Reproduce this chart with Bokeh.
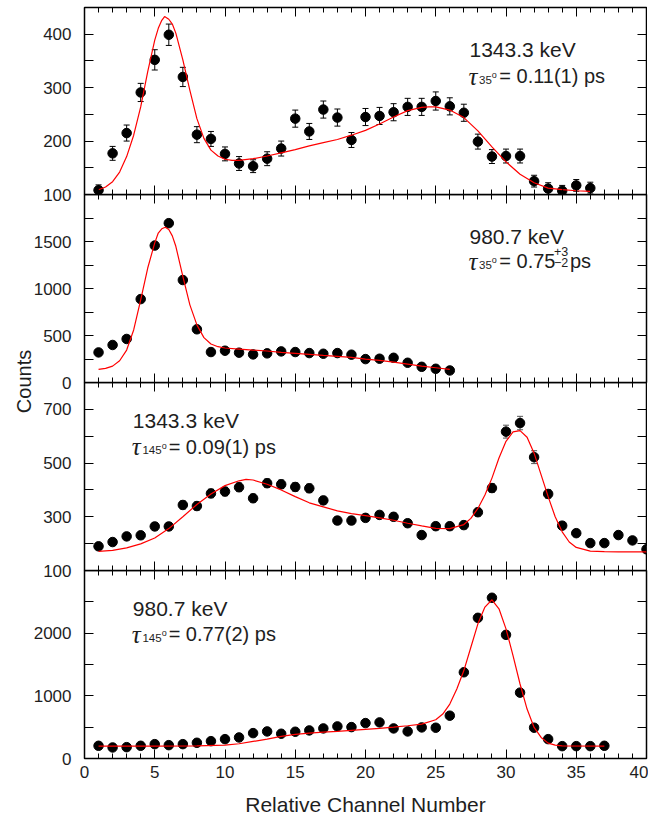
import numpy as np
from bokeh.plotting import figure
from bokeh.models import (Range1d, FixedTicker, LinearAxis, Whisker, TeeHead,
                          ColumnDataSource, Label)
from bokeh.layouts import row, column
from bokeh.embed import file_html
from bokeh.resources import INLINE

# ---------------- data ----------------
x_ticks = [0, 5, 10, 15, 20, 25, 30, 35, 40]
x_minor = list(range(0, 41))

# panel 1 : 1343.3 keV, 35 deg
p1_ch = list(range(1, 37))
p1_counts = [108, 177, 215, 291, 352, 399, 320, 212, 204, 176, 158, 153, 167, 186, 242, 218,
             259, 244, 202, 245, 247, 254, 264, 264, 275, 265, 253, 199, 171, 172, 172, 125,
             111, 107, 117, 112]
p1_err = [10, 13, 15, 17, 19, 20, 18, 15, 14, 13, 13, 12, 13, 14, 16, 15, 16, 16, 14, 16,
          16, 16, 16, 16, 17, 16, 16, 14, 13, 13, 13, 11, 11, 10, 11, 11]
p1_fit_x = [1, 1.5, 2, 2.5, 3, 3.5, 4, 4.5, 5, 5.25, 5.5, 5.7, 6, 6.25, 6.5, 7, 7.5, 8, 8.5, 9,
            9.5, 10, 10.5, 11, 12, 13, 14, 15, 16, 17, 18, 19, 20, 21, 22, 23, 24, 24.5, 25,
            26, 27, 28, 29, 30, 31, 32, 33, 34, 35, 36]
p1_fit_y = [109, 114, 124, 142, 171, 211, 264, 330, 389, 411, 426, 433, 428, 419, 402, 352, 295,
            242, 205, 183, 172, 166, 164, 164, 167, 172, 178, 184, 191, 197, 203, 211, 220, 232,
            245, 257, 263, 264, 264, 258, 244, 219, 189, 161, 138, 122, 112, 109, 107, 106]
p1_yticks = [100, 150, 200, 250, 300, 350, 400]
p1_ylabels = [100, 200, 300, 400]

# panel 2 : 980.7 keV, 35 deg
p2_ch = list(range(1, 27))
p2_counts = [320, 399, 463, 887, 1457, 1695, 1090, 566, 324, 338, 317, 299, 310, 331, 324, 313,
             306, 313, 296, 249, 253, 263, 210, 167, 146, 128]
p2_fit_x = [1, 1.5, 2, 2.5, 3, 3.5, 4, 4.5, 5, 5.25, 5.5, 5.75, 6, 6.25, 6.5, 7, 7.5, 8, 8.5, 9,
            9.5, 10, 11, 12, 13, 14, 15, 16, 17, 18, 19, 20, 21, 22, 23, 24, 25, 26]
p2_fit_y = [139, 150, 174, 231, 345, 559, 880, 1218, 1485, 1590, 1635, 1652, 1627, 1560, 1449,
            1129, 826, 613, 477, 410, 381, 367, 356, 345, 335, 320, 310, 299, 288, 278, 267, 249,
            235, 217, 196, 175, 157, 139]
p2_yticks = [0, 250, 500, 750, 1000, 1250, 1500, 1750]
p2_ylabels = [0, 500, 1000, 1500]

# panel 3 : 1343.3 keV, 145 deg
p3_ch = list(range(1, 41))
p3_counts = [190, 206, 227, 231, 264, 264, 344, 340, 387, 394, 410, 369, 425, 421, 411, 406,
             361, 286, 286, 296, 307, 300, 276, 232, 265, 265, 269, 317, 407, 617, 649, 522,
             385, 267, 239, 202, 202, 232, 212, 179]
p3_err = [12, 12, 13, 13, 14, 14, 15, 15, 16, 16, 16, 15, 16, 16, 16, 16, 15, 14, 14, 14, 14,
          14, 14, 13, 14, 14, 14, 15, 16, 24, 25, 24, 16, 14, 13, 12, 12, 13, 12, 12]
p3_fit_x = [1, 2, 3, 4, 5, 6, 7, 8, 9, 10, 11, 11.5, 12, 13, 14, 15, 16, 17, 18, 19, 20, 21, 22,
            23, 24, 25, 26, 27, 27.5, 28, 28.5, 29, 29.5, 30, 30.5, 31, 31.5, 32, 32.5, 33, 33.5,
            34, 34.5, 35, 36, 37, 38, 40]
p3_fit_y = [171, 175, 184, 199, 221, 256, 300, 346, 385, 416, 434, 439, 437, 421, 400, 375, 352,
            337, 322, 312, 304, 296, 287, 276, 266, 257, 256, 271, 294, 331, 381, 444, 519, 581,
            616, 621, 596, 537, 456, 375, 300, 244, 206, 186, 172, 170, 169, 169]
p3_yticks = [100, 200, 300, 400, 500, 600, 700]
p3_ylabels = [100, 300, 500, 700]

# panel 4 : 980.7 keV, 145 deg
p4_ch = list(range(1, 38))
p4_counts = [203, 176, 181, 203, 229, 213, 229, 251, 277, 309, 336, 405, 432, 395, 427, 448,
             480, 512, 501, 565, 576, 480, 432, 496, 491, 683, 1376, 2245, 2565, 1973, 1051,
             491, 309, 197, 197, 197, 203]
p4_fit_x = [1, 5, 8, 10, 11, 12, 13, 14, 15, 16, 17, 18, 19, 20, 21, 22, 23, 24, 25, 25.5, 26,
            26.5, 27, 27.5, 28, 28.5, 29, 29.5, 30, 30.5, 31, 31.5, 32, 32.5, 33, 33.5, 34, 37]
p4_fit_y = [197, 197, 203, 213, 235, 272, 309, 352, 384, 405, 421, 432, 448, 464, 480, 501, 523,
            549, 619, 709, 869, 1109, 1403, 1776, 2149, 2416, 2533, 2389, 2069, 1643, 1189, 789,
            496, 336, 245, 213, 203, 197]
p4_yticks = [0, 500, 1000, 1500, 2000, 2500]
p4_ylabels = [0, 1000, 2000]

# ---------------- styling ----------------
FONT = "Liberation Sans"
TXT = "#1e1e1e"
FRAME_W = 562
LEFT = 53


def style_axis(ax, ticker, minor_len, labels, overrides=None):
    ax.ticker = ticker
    ax.axis_line_color = None
    ax.major_tick_in = 9
    ax.major_tick_out = 0
    ax.minor_tick_in = minor_len
    ax.minor_tick_out = 0
    ax.major_tick_line_color = "black"
    ax.minor_tick_line_color = "black" if minor_len else None
    ax.major_tick_line_width = 1
    ax.minor_tick_line_width = 1
    if labels:
        ax.major_label_text_font = FONT
        ax.major_label_text_font_size = "17px"
        ax.major_label_text_color = TXT
        if overrides:
            ax.major_label_overrides = overrides
    else:
        ax.major_label_text_font_size = "0px"
        ax.major_label_standoff = 0
        ax.major_label_overrides = {t: "" for t in ticker.ticks}


def make_panel(ylo, yhi, yticks, ylabels, frame_h, top_b, bot_b, bottom_labels):
    p = figure(frame_width=FRAME_W, frame_height=frame_h,
               x_range=Range1d(0, 40), y_range=Range1d(ylo, yhi),
               output_backend="svg", toolbar_location=None,
               x_axis_location=None, y_axis_location=None,
               min_border_left=LEFT, min_border_right=2,
               min_border_top=top_b, min_border_bottom=bot_b,
               background_fill_color=None, border_fill_color=None,
               outline_line_color="black", outline_line_width=1.5)
    p.grid.visible = False
    xt = FixedTicker(ticks=x_ticks, minor_ticks=x_minor)
    yt = FixedTicker(ticks=yticks)
    ov = {t: "" for t in yticks if t not in ylabels}

    left = LinearAxis()
    style_axis(left, yt, 0, True, ov)
    left.major_label_standoff = 13
    p.add_layout(left, "left")

    right = LinearAxis()
    style_axis(right, FixedTicker(ticks=yticks), 0, False)
    p.add_layout(right, "right")

    above = LinearAxis()
    style_axis(above, FixedTicker(ticks=x_ticks, minor_ticks=x_minor), 5, False)
    p.add_layout(above, "above")

    below = LinearAxis()
    if bottom_labels:
        style_axis(below, xt, 5, True)
        below.major_label_standoff = 7
        below.axis_label = "Relative Channel Number"
        below.axis_label_text_font = FONT
        below.axis_label_text_font_size = "21px"
        below.axis_label_text_font_style = "normal"
        below.axis_label_text_color = TXT
        below.axis_label_standoff = 12
    else:
        style_axis(below, xt, 5, False)
    p.add_layout(below, "below")
    return p


def draw(p, ch, counts, fx, fy, err=None, err_color="black"):
    if err is not None:
        src = ColumnDataSource(dict(x=ch, lo=[c - e for c, e in zip(counts, err)],
                                    hi=[c + e for c, e in zip(counts, err)]))
        w = Whisker(base="x", lower="lo", upper="hi", source=src,
                    line_color=err_color, line_width=1,
                    lower_head=TeeHead(size=6, line_color=err_color, line_width=1),
                    upper_head=TeeHead(size=6, line_color=err_color, line_width=1))
        p.add_layout(w)
    p.scatter(ch, counts, size=9.5, color="black")
    p.line(fx, fy, line_color="red", line_width=1.2)


def txt(p, x, y, text, size="21px", dx=0, dy=0, font=FONT, style="normal"):
    p.add_layout(Label(x=x, y=y, text=text, x_offset=dx, y_offset=dy,
                       text_font=font, text_font_size=size, text_font_style=style,
                       text_color=TXT, text_align="left", text_baseline="alphabetic"))


def tau_line(p, x, y, sub, rest, deg_dx, rest_dx):
    txt(p, x, y, "\u03c4", size="25px", font="Liberation Serif", style="italic", dx=-1)
    txt(p, x, y, sub, size="11.5px", dx=9.6, dy=-3.5)
    txt(p, x, y, "o", size="9px", dx=deg_dx, dy=1)
    txt(p, x, y, rest, size="20px", dx=rest_dx)


# panel 1
p1 = make_panel(100, 450, p1_yticks, p1_ylabels, 187, 7, 12, False)
draw(p1, p1_ch, p1_counts, p1_fit_x, p1_fit_y, p1_err)
txt(p1, 27.4, 371, "1343.3 keV")
tau_line(p1, 27.4, 321, "35", "= 0.11(1) ps", 22.4, 29.8)

# panel 2
p2 = make_panel(0, 2000, p2_yticks, p2_ylabels, 188, 0, 12, False)
draw(p2, p2_ch, p2_counts, p2_fit_x, p2_fit_y)
txt(p2, 27.4, 1556, "980.7 keV")
tau_line(p2, 27.4, 1288, "35", "= 0.75", 22.4, 29.8)
txt(p2, 27.4, 1288, "+3", size="12.5px", dx=84.5, dy=10)
txt(p2, 27.4, 1288, "\u22122", size="12.5px", dx=84.5, dy=-1.5)
txt(p2, 27.4, 1288, "ps", size="20px", dx=100.5)

# panel 3
p3 = make_panel(100, 800, p3_yticks, p3_ylabels, 188, 0, 12, False)
draw(p3, p3_ch, p3_counts, p3_fit_x, p3_fit_y, p3_err, err_color="#555555")
txt(p3, 3.44, 658, "1343.3 keV")
tau_line(p3, 3.44, 561, "145", "= 0.09(1) ps", 28.8, 35.8)

# panel 4
p4 = make_panel(0, 3000, p4_yticks, p4_ylabels, 188, 0, 0, True)
draw(p4, p4_ch, p4_counts, p4_fit_x, p4_fit_y)
txt(p4, 3.44, 2390, "980.7 keV")
tau_line(p4, 3.44, 1979, "145", "= 0.77(2) ps", 28.8, 35.8)

for p in (p2, p3, p4):
    p.margin = (-12, 0, 0, 0)

# y-axis title in its own transparent strip, partly underlying the panels' left borders
H = 818
LAB_W = 70
lab = figure(width=LAB_W, height=H, x_range=Range1d(0, 1), y_range=Range1d(0, 1),
             output_backend="svg", toolbar_location=None, x_axis_type=None, y_axis_type=None,
             min_border=0, outline_line_color=None, background_fill_color=None,
             border_fill_color=None)
lab.grid.visible = False
lab.add_layout(Label(x=23, y=H - 381, x_units="screen", y_units="screen", text="Counts",
                     angle=np.pi / 2, text_align="center", text_baseline="alphabetic",
                     text_font=FONT, text_font_size="20px", text_color=TXT))

panels = column(p1, p2, p3, p4)
panels.margin = (0, 0, 0, 30 - LAB_W)

layout = row(lab, panels)
open("out.html", "w").write(file_html(layout, INLINE))
